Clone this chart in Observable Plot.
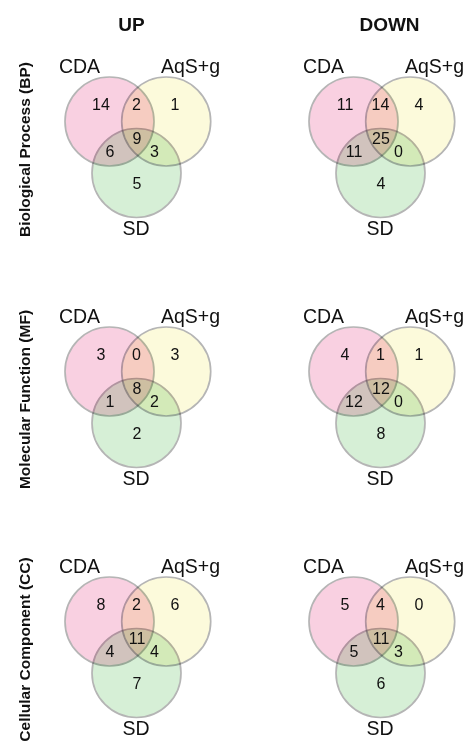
<!DOCTYPE html>
<html>
<head>
<meta charset="utf-8">
<script src="https://cdn.jsdelivr.net/npm/d3@7"></script>
<script src="https://cdn.jsdelivr.net/npm/@observablehq/plot@0.6"></script>
<style>
  html, body { margin: 0; padding: 0; background: #fff; }
  #chart svg g[aria-label="dot"] circle { mix-blend-mode: multiply; }
</style>
</head>
<body>
<div id="chart"></div>
<script>
// ---- data ----
const directions = ["UP", "DOWN"];
const ontologies = ["Biological Process (BP)", "Molecular Function (MF)", "Cellular Component (CC)"];
const sets = ["CDA", "AqS+g", "SD"];
const setColors = ["#f9d0e1", "#fcfadb", "#d6efd6"];
// region order: CDA only, CDA∩AqS+g, AqS+g only, all three, CDA∩SD, AqS+g∩SD, SD only
const regions = ["CDA", "CDA∩AqS+g", "AqS+g", "CDA∩AqS+g∩SD", "CDA∩SD", "AqS+g∩SD", "SD"];
const upBP   = [14, 2, 1, 9, 6, 3, 5];
const downBP = [11, 14, 4, 25, 11, 0, 4];
const upMF   = [3, 0, 3, 8, 1, 2, 2];
const downMF = [4, 1, 1, 12, 12, 0, 8];
const upCC   = [8, 2, 6, 11, 4, 4, 7];
const downCC = [5, 4, 0, 11, 5, 3, 6];

// ---- Venn layout (panel-local units, 1 unit ≈ 1 px) ----
const layout = {
  radius: 44.5,
  circles: {"CDA": [52, 80], "AqS+g": [108.7, 80], "SD": [79, 131.5]},
  setLabels: {"CDA": [22, 25], "AqS+g": [133, 25], "SD": [78.5, 187]},
  regionLabels: {
    "CDA": [43.5, 63], "CDA∩AqS+g": [79, 63], "AqS+g": [117.5, 63],
    "CDA∩AqS+g∩SD": [79.5, 97], "CDA∩SD": [52.5, 110], "AqS+g∩SD": [97, 110], "SD": [79.5, 142]
  },
  header: {"UP": 74, "DOWN": 88},
  headerY: -17,
  rowLabel: [-32, 108]
};

const countTable = {
  "Biological Process (BP)": {UP: upBP, DOWN: downBP},
  "Molecular Function (MF)": {UP: upMF, DOWN: downMF},
  "Cellular Component (CC)": {UP: upCC, DOWN: downCC}
};

const circles = [];
const counts = [];
for (const onto of ontologies) {
  for (const dir of directions) {
    for (const set of sets) circles.push({onto, dir, set});
    countTable[onto][dir].forEach((n, i) => counts.push({onto, dir, region: regions[i], n}));
  }
}

const font = "'Liberation Sans', Arial, Helvetica, sans-serif";

const chart = Plot.plot({
  width: 466,
  height: 741,
  marginLeft: 56,
  marginRight: 5,
  marginTop: 40,
  marginBottom: 0,
  style: {fontFamily: font, background: "white", color: "#111"},
  x: {domain: [0, 160], axis: null},
  y: {domain: [0, 200], reverse: true, axis: null},
  fx: {domain: directions, paddingInner: 0.3459, paddingOuter: 0, axis: null},
  fy: {domain: ontologies, paddingInner: 0.2016, paddingOuter: 0, axis: null},
  color: {domain: sets, range: setColors},
  marks: [
    Plot.dot(circles, {
      fx: "dir", fy: "onto",
      x: d => layout.circles[d.set][0],
      y: d => layout.circles[d.set][1],
      r: layout.radius,
      fill: "set",
      stroke: "#b5b5b5",
      strokeWidth: 1.7
    }),
    Plot.text(circles, {
      fx: "dir", fy: "onto",
      x: d => layout.setLabels[d.set][0],
      y: d => layout.setLabels[d.set][1],
      text: "set",
      fontSize: 19.5,
      fill: "#111"
    }),
    Plot.text(counts, {
      fx: "dir", fy: "onto",
      x: d => layout.regionLabels[d.region][0],
      y: d => layout.regionLabels[d.region][1],
      text: d => String(d.n),
      fontSize: 16,
      fill: "#111"
    }),
    Plot.text(directions, {
      fx: d => d, fy: () => ontologies[0],
      x: d => layout.header[d],
      y: layout.headerY,
      text: d => d,
      fontSize: 19,
      fontWeight: "bold",
      fill: "#111"
    }),
    Plot.text(ontologies, {
      fx: () => "UP", fy: d => d,
      x: layout.rowLabel[0],
      y: layout.rowLabel[1],
      rotate: -90,
      text: d => d,
      fontSize: 15.5,
      fontWeight: "bold",
      fill: "#111"
    })
  ]
});
document.getElementById("chart").appendChild(chart);
</script>
</body>
</html>
